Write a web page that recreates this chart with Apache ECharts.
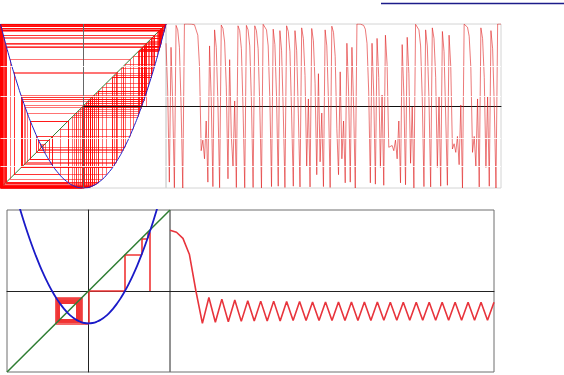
<!DOCTYPE html>
<html><head><meta charset="utf-8">
<script src="https://cdn.jsdelivr.net/npm/echarts@6/dist/echarts.min.js"></script>
<style>html,body{margin:0;padding:0;background:#fff}#c{width:564px;height:375px}</style>
</head><body><div id="c"></div>
<script>
// Orbit of the chaotic map (top panel), one value per iteration (201 values)
const chaosOrbit = [1.530,0.366,-1.857,1.431,0.074,-1.992,1.966,1.857,1.431,0.025,
 -2.000,2.000,2.000,2.000,2.000,1.998,1.996,1.981,1.934,1.727,
 0.964,-1.090,-0.833,-1.288,-0.366,-1.857,1.465,0.172,-1.966,1.857,
 1.431,0.074,-1.992,1.974,1.891,1.561,0.462,-1.775,1.131,-0.742,
 -1.465,0.123,-1.987,1.956,1.838,1.396,-0.074,-1.992,1.966,1.857,
 1.465,0.123,-1.987,1.956,1.838,1.396,-0.025,-1.998,1.992,1.966,
 1.857,1.465,0.172,-1.966,1.874,1.498,0.220,-1.956,1.838,1.361,
 -0.123,-1.987,1.956,1.818,1.325,-0.220,-1.956,1.838,1.361,-0.172,
 -1.974,1.906,1.649,0.742,-1.465,0.172,-1.974,1.891,1.591,0.557,
 -1.676,0.788,-1.361,-0.172,-1.966,1.857,1.465,0.123,-1.987,1.946,
 1.797,1.211,-0.557,-1.676,0.833,-1.288,-0.366,-1.874,1.530,0.366,
 -1.857,1.431,0.025,-2.000,2.000,2.000,1.998,1.992,1.966,1.874,
 1.530,0.366,-1.874,1.530,0.317,-1.906,1.649,0.697,-1.498,0.269,
 -1.934,1.727,1.007,-1.007,-1.007,-0.964,-1.090,-0.833,-1.288,-0.366,
 -1.874,1.498,0.269,-1.921,1.676,0.788,-1.396,-0.025,-1.998,1.992,
 1.966,1.857,1.465,0.172,-1.966,1.857,1.465,0.172,-1.974,1.906,
 1.649,0.697,-1.498,0.220,-1.956,1.818,1.325,-0.269,-1.934,1.727,
 0.964,-1.049,-0.921,-1.131,-0.742,-1.431,0.025,-1.998,1.996,1.981,
 1.921,1.702,0.921,-1.131,-0.742,-1.465,0.172,-1.974,1.906,1.649,
 0.697,-1.498,0.220,-1.956,1.838,1.396,-0.025,-2.000,2.000,2.000,
 2.000];
// Orbit settling on the 2-cycle (bottom panel)
const cycleOrbit = [1.50,1.45,1.30,0.90,0.00,-0.80,-0.16,-0.77,-0.20,-0.76,
 -0.22,-0.75,-0.24,-0.74,-0.25,-0.74,-0.25,-0.74,-0.26,-0.73,
 -0.26,-0.73,-0.27,-0.73,-0.27,-0.73,-0.27,-0.73,-0.27,-0.73,
 -0.27,-0.73,-0.27,-0.72,-0.28,-0.72,-0.28,-0.72,-0.28,-0.72,
 -0.28,-0.72,-0.28,-0.72,-0.28,-0.72,-0.28,-0.72,-0.28,-0.72,-0.28];
// Map curves (parabolas) sampled
const chaosCurveX = [-2,-1.8,-1.6,-1.4,-1.2,-1,-0.8,-0.6,-0.4,-0.2,0,0.2,0.4,0.6,0.8,1,1.2,1.4,1.6,1.8,2];
const chaosCurveY = [2,1.24,0.56,-0.04,-0.56,-1,-1.36,-1.64,-1.84,-1.96,-2,-1.96,-1.84,-1.64,-1.36,-1,-0.56,-0.04,0.56,1.24,2];
const cycleCurveX = [-1.7,-1.6,-1.5,-1.4,-1.3,-1.2,-1.1,-1,-0.9,-0.8,-0.7,-0.6,-0.5,-0.4,-0.3,-0.2,-0.1,0,
 0.1,0.2,0.3,0.4,0.5,0.6,0.7,0.8,0.9,1,1.1,1.2,1.3,1.4,1.5,1.6,1.7];
const cycleCurveY = [2.09,1.76,1.45,1.16,0.89,0.64,0.41,0.2,0.01,-0.16,-0.31,-0.44,-0.55,-0.64,-0.71,-0.76,-0.79,-0.8,
 -0.79,-0.76,-0.71,-0.64,-0.55,-0.44,-0.31,-0.16,0.01,0.2,0.41,0.64,0.89,1.16,1.45,1.76,2.09];
// Light guide rows crossing the top panels
const topGuideLevels = [0.96, 0.24, -0.78, -1.48];
const diagonalEnds = [-2, 2];
const stateRange = [-2, 2];
const chaosSteps = 200, cycleSteps = 50;

function cobweb(orbit){
  const segs = [];
  for (let i = 0; i < orbit.length - 1; i++) {
    const x = orbit[i], y = orbit[i+1];
    segs.push({coords: [[x, i === 0 ? 0 : x], [x, y]]});
    segs.push({coords: [[x, y], [y, y]]});
  }
  return segs;
}
const zip = (a, b) => a.map((v, i) => [v, b[i]]);
const series1 = a => a.map((v, i) => [i, v]);
const guideMarks = {silent: true, symbol: 'none', label: {show: false}, z: 20,
  lineStyle: {color: '#ffffff', width: 1, type: 'solid', opacity: 0.85},
  data: topGuideLevels.map(v => ({yAxis: v}))};

const grids = [
  {left: 0.5, top: 24, width: 165.5, height: 164, show: true, borderColor: '#d4d4d4', borderWidth: 1},
  {left: 166, top: 24, width: 335, height: 164, show: true, borderColor: '#d4d4d4', borderWidth: 1},
  {left: 7, top: 210, width: 163, height: 162, show: true, borderColor: '#6e6e6e', borderWidth: 1},
  {left: 170, top: 210, width: 324, height: 162, show: true, borderColor: '#6e6e6e', borderWidth: 1}
];
function ax(gi, min, max, lineColor, showLine){
  return {type: 'value', gridIndex: gi, min: min, max: max,
    axisLabel: {show: false}, axisTick: {show: false}, splitLine: {show: false},
    axisLine: {show: showLine, onZero: true, lineStyle: {color: lineColor, width: 1}}};
}
const option = {
  animation: false,
  grid: grids,
  xAxis: [ax(0, stateRange[0], stateRange[1], '#333', false), ax(1, 0, chaosSteps, '#111', true),
           ax(2, stateRange[0], stateRange[1], '#222', true), ax(3, 0, cycleSteps, '#222', true)],
  yAxis: [ax(0, stateRange[0], stateRange[1], '#555', false), ax(1, stateRange[0], stateRange[1], '#111', false),
           ax(2, stateRange[0], stateRange[1], '#222', true), ax(3, stateRange[0], stateRange[1], '#222', false)],
  graphic: [{type: 'line', shape: {x1: 381, y1: 3.5, x2: 564, y2: 3.5}, style: {stroke: '#1c1c8a', lineWidth: 1.5}}],
  series: [
    {type: 'line', xAxisIndex: 0, yAxisIndex: 0, data: zip(diagonalEnds, diagonalEnds), showSymbol: false,
     lineStyle: {color: '#2e7d32', width: 1}, z: 1,
     markLine: {silent: true, symbol: 'none', label: {show: false}, lineStyle: {color: '#666', width: 1, type: 'solid'},
       data: [[{coord: [0, stateRange[0]]}, {coord: [0, stateRange[1]]}]]}},
    {type: 'lines', coordinateSystem: 'cartesian2d', xAxisIndex: 0, yAxisIndex: 0, large: false,
     data: cobweb(chaosOrbit), lineStyle: {color: '#ff0000', width: 1, opacity: 0.55}, z: 2},
    {type: 'line', xAxisIndex: 0, yAxisIndex: 0, data: zip(chaosCurveX, chaosCurveY), smooth: true, showSymbol: false,
     lineStyle: {color: '#2020c8', width: 1}, z: 3,
     markLine: {silent: true, symbol: 'none', label: {show: false}, lineStyle: {color: '#111', width: 1, type: 'solid'},
       data: [[{coord: [0, 0]}, {coord: [stateRange[1], 0]}]]}},
    {type: 'line', xAxisIndex: 0, yAxisIndex: 0, data: [], z: 10, markLine: guideMarks},
    {type: 'line', xAxisIndex: 1, yAxisIndex: 1, data: series1(chaosOrbit), showSymbol: false,
     lineStyle: {color: '#e02020', width: 1, opacity: 0.6}, z: 2},
    {type: 'line', xAxisIndex: 1, yAxisIndex: 1, data: [], z: 10, markLine: guideMarks},
    {type: 'lines', coordinateSystem: 'cartesian2d', xAxisIndex: 2, yAxisIndex: 2, large: false,
     data: cobweb(cycleOrbit), lineStyle: {color: '#f03434', width: 1.6, opacity: 1}, z: 2},
    {type: 'line', xAxisIndex: 2, yAxisIndex: 2, data: zip(diagonalEnds, diagonalEnds), showSymbol: false,
     lineStyle: {color: '#2e7d32', width: 1.5}, z: 3},
    {type: 'line', xAxisIndex: 2, yAxisIndex: 2, data: zip(cycleCurveX, cycleCurveY), smooth: true, showSymbol: false,
     lineStyle: {color: '#1a1ac8', width: 1.8}, z: 3},
    {type: 'line', xAxisIndex: 3, yAxisIndex: 3, data: series1(cycleOrbit), showSymbol: false,
     lineStyle: {color: '#e8343c', width: 1.6}, z: 2}
  ]
};
echarts.init(document.getElementById('c'), null, {renderer: 'canvas'}).setOption(option);
</script></body></html>
